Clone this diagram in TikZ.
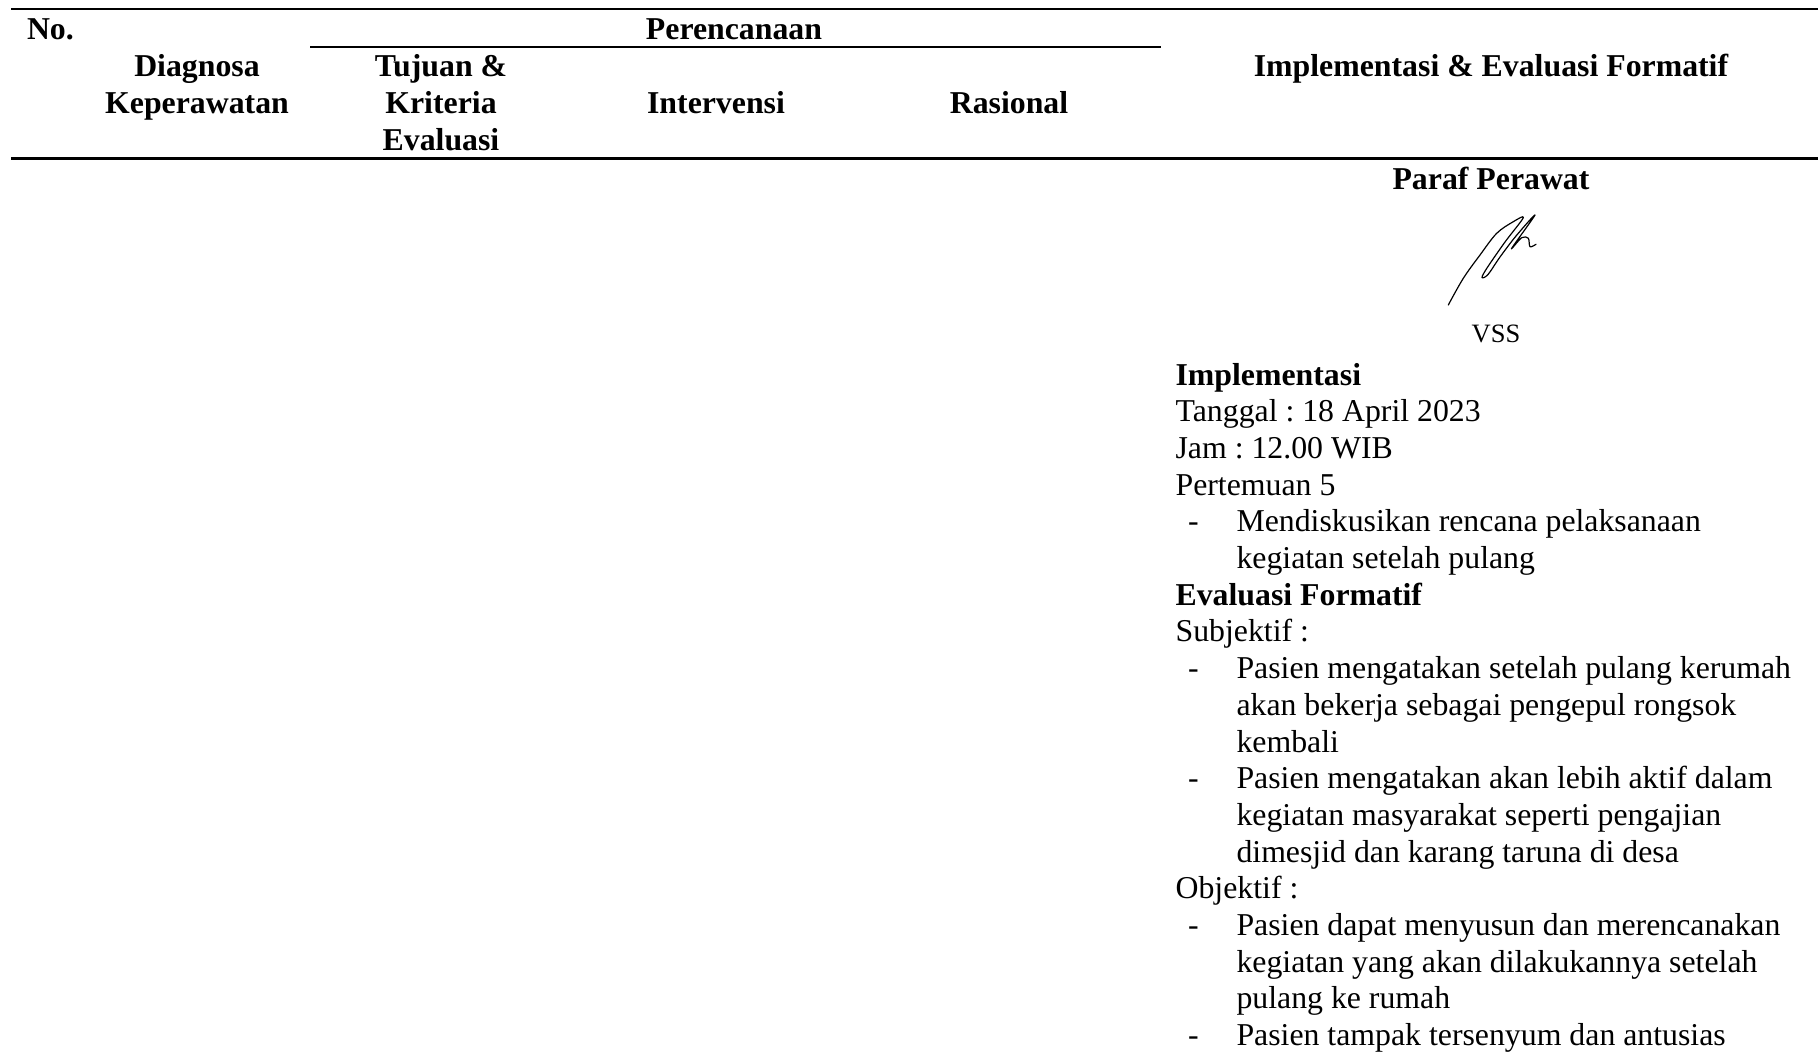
\documentclass[tikz,border=0pt]{standalone}
\usepackage{fontspec}
\setmainfont{Liberation Serif}
\frenchspacing
\begin{document}
\begin{tikzpicture}[x=0.37736pt,y=-0.37736pt,
  txt/.style={inner sep=0pt, outer sep=0pt, font=\fontsize{12}{13.8}\selectfont},
  hdr/.style={txt, font=\fontsize{12}{13.8}\selectfont\bfseries},
  lt/.style={txt, anchor=base west},
  lb/.style={hdr, anchor=base west},
  ct/.style={hdr, anchor=base},
  thinrule/.style={line width=0.65pt},
  thickrule/.style={line width=0.85pt},
  pen/.style={line width=0.45pt, line cap=round, line join=round}]
\useasboundingbox (0,0) rectangle (1818,1053);

% table rules
\coordinate (topL) at (11,9);
\coordinate (topR) at (1818,9);
\coordinate (plL) at (310,47);
\coordinate (plR) at (1161,47);
\coordinate (botL) at (11,158.5);
\coordinate (botR) at (1818,158.5);
\draw[thinrule] (topL) -- (topR);
\draw[thinrule] (plL) -- (plR);
\draw[thickrule] (botL) -- (botR);

% header cells
\node[lb] (no) at (27,39.5) {No.};
\node[ct] (plan) at (734,39.5) {Perencanaan};
\node[ct] (diag1) at (197,77) {Diagnosa};
\node[ct] (diag2) at (197,114) {Keperawatan};
\node[ct] (tuj1) at (441,77) {Tujuan \&};
\node[ct] (tuj2) at (441,114) {Kriteria};
\node[ct] (tuj3) at (441,151) {Evaluasi};
\node[ct] (interv) at (716,114) {Intervensi};
\node[ct] (rasio) at (1009,114) {Rasional};
\node[ct] (impl) at (1491,77) {Implementasi \& Evaluasi Formatif};

% nurse's initials
\node[ct] (paraf) at (1491,190) {Paraf Perawat};
\draw[pen] plot[smooth, tension=0.55] coordinates {
  (1448.3,305) (1463.3,278.3) (1480,255) (1496.7,233.3) (1513.3,221.7) (1523.3,217.7)
  (1505,242) (1487,268) (1482,277.5) (1488,274.5)
  (1500,257) (1516,236) (1535,215)
  (1511.7,248.3) (1521.7,237.7) (1528.3,238.3) (1530,246.7) (1536,244.3)};
\node[txt, anchor=base, font=\fontsize{10}{12}\selectfont] (vss) at (1496,342.5) {VSS};

% implementation and formative evaluation
\node[lb] (r0) at (1175.6,385.0) {Implementasi};
\node[lt] (r1) at (1175.6,421.7) {Tanggal : 18 April 2023};
\node[lt] (r2) at (1175.6,458.4) {Jam : 12.00 WIB};
\node[lt] (r3) at (1175.6,495.1) {Pertemuan 5};
\node[lt] (d4) at (1188,531.8) {-};
\node[lt] (r4) at (1236.5,531.8) {Mendiskusikan rencana pelaksanaan};
\node[lt] (r5) at (1236.5,568.5) {kegiatan setelah pulang};
\node[lb] (r6) at (1175.6,605.2) {Evaluasi Formatif};
\node[lt] (r7) at (1175.6,641.9) {Subjektif :};
\node[lt] (d8) at (1188,678.6) {-};
\node[lt] (r8) at (1236.5,678.6) {Pasien mengatakan setelah pulang kerumah};
\node[lt] (r9) at (1236.5,715.3) {akan bekerja sebagai pengepul rongsok};
\node[lt] (r10) at (1236.5,752.0) {kembali};
\node[lt] (d11) at (1188,788.7) {-};
\node[lt] (r11) at (1236.5,788.7) {Pasien mengatakan akan lebih aktif dalam};
\node[lt] (r12) at (1236.5,825.4) {kegiatan masyarakat seperti pengajian};
\node[lt] (r13) at (1236.5,862.1) {dimesjid dan karang taruna di desa};
\node[lt] (r14) at (1175.6,898.8) {Objektif :};
\node[lt] (d15) at (1188,935.5) {-};
\node[lt] (r15) at (1236.5,935.5) {Pasien dapat menyusun dan merencanakan};
\node[lt] (r16) at (1236.5,972.2) {kegiatan yang akan dilakukannya setelah};
\node[lt] (r17) at (1236.5,1008.9) {pulang ke rumah};
\node[lt] (d18) at (1188,1045.6) {-};
\node[lt] (r18) at (1236.5,1045.6) {Pasien tampak tersenyum dan antusias};
\end{tikzpicture}
\end{document}
